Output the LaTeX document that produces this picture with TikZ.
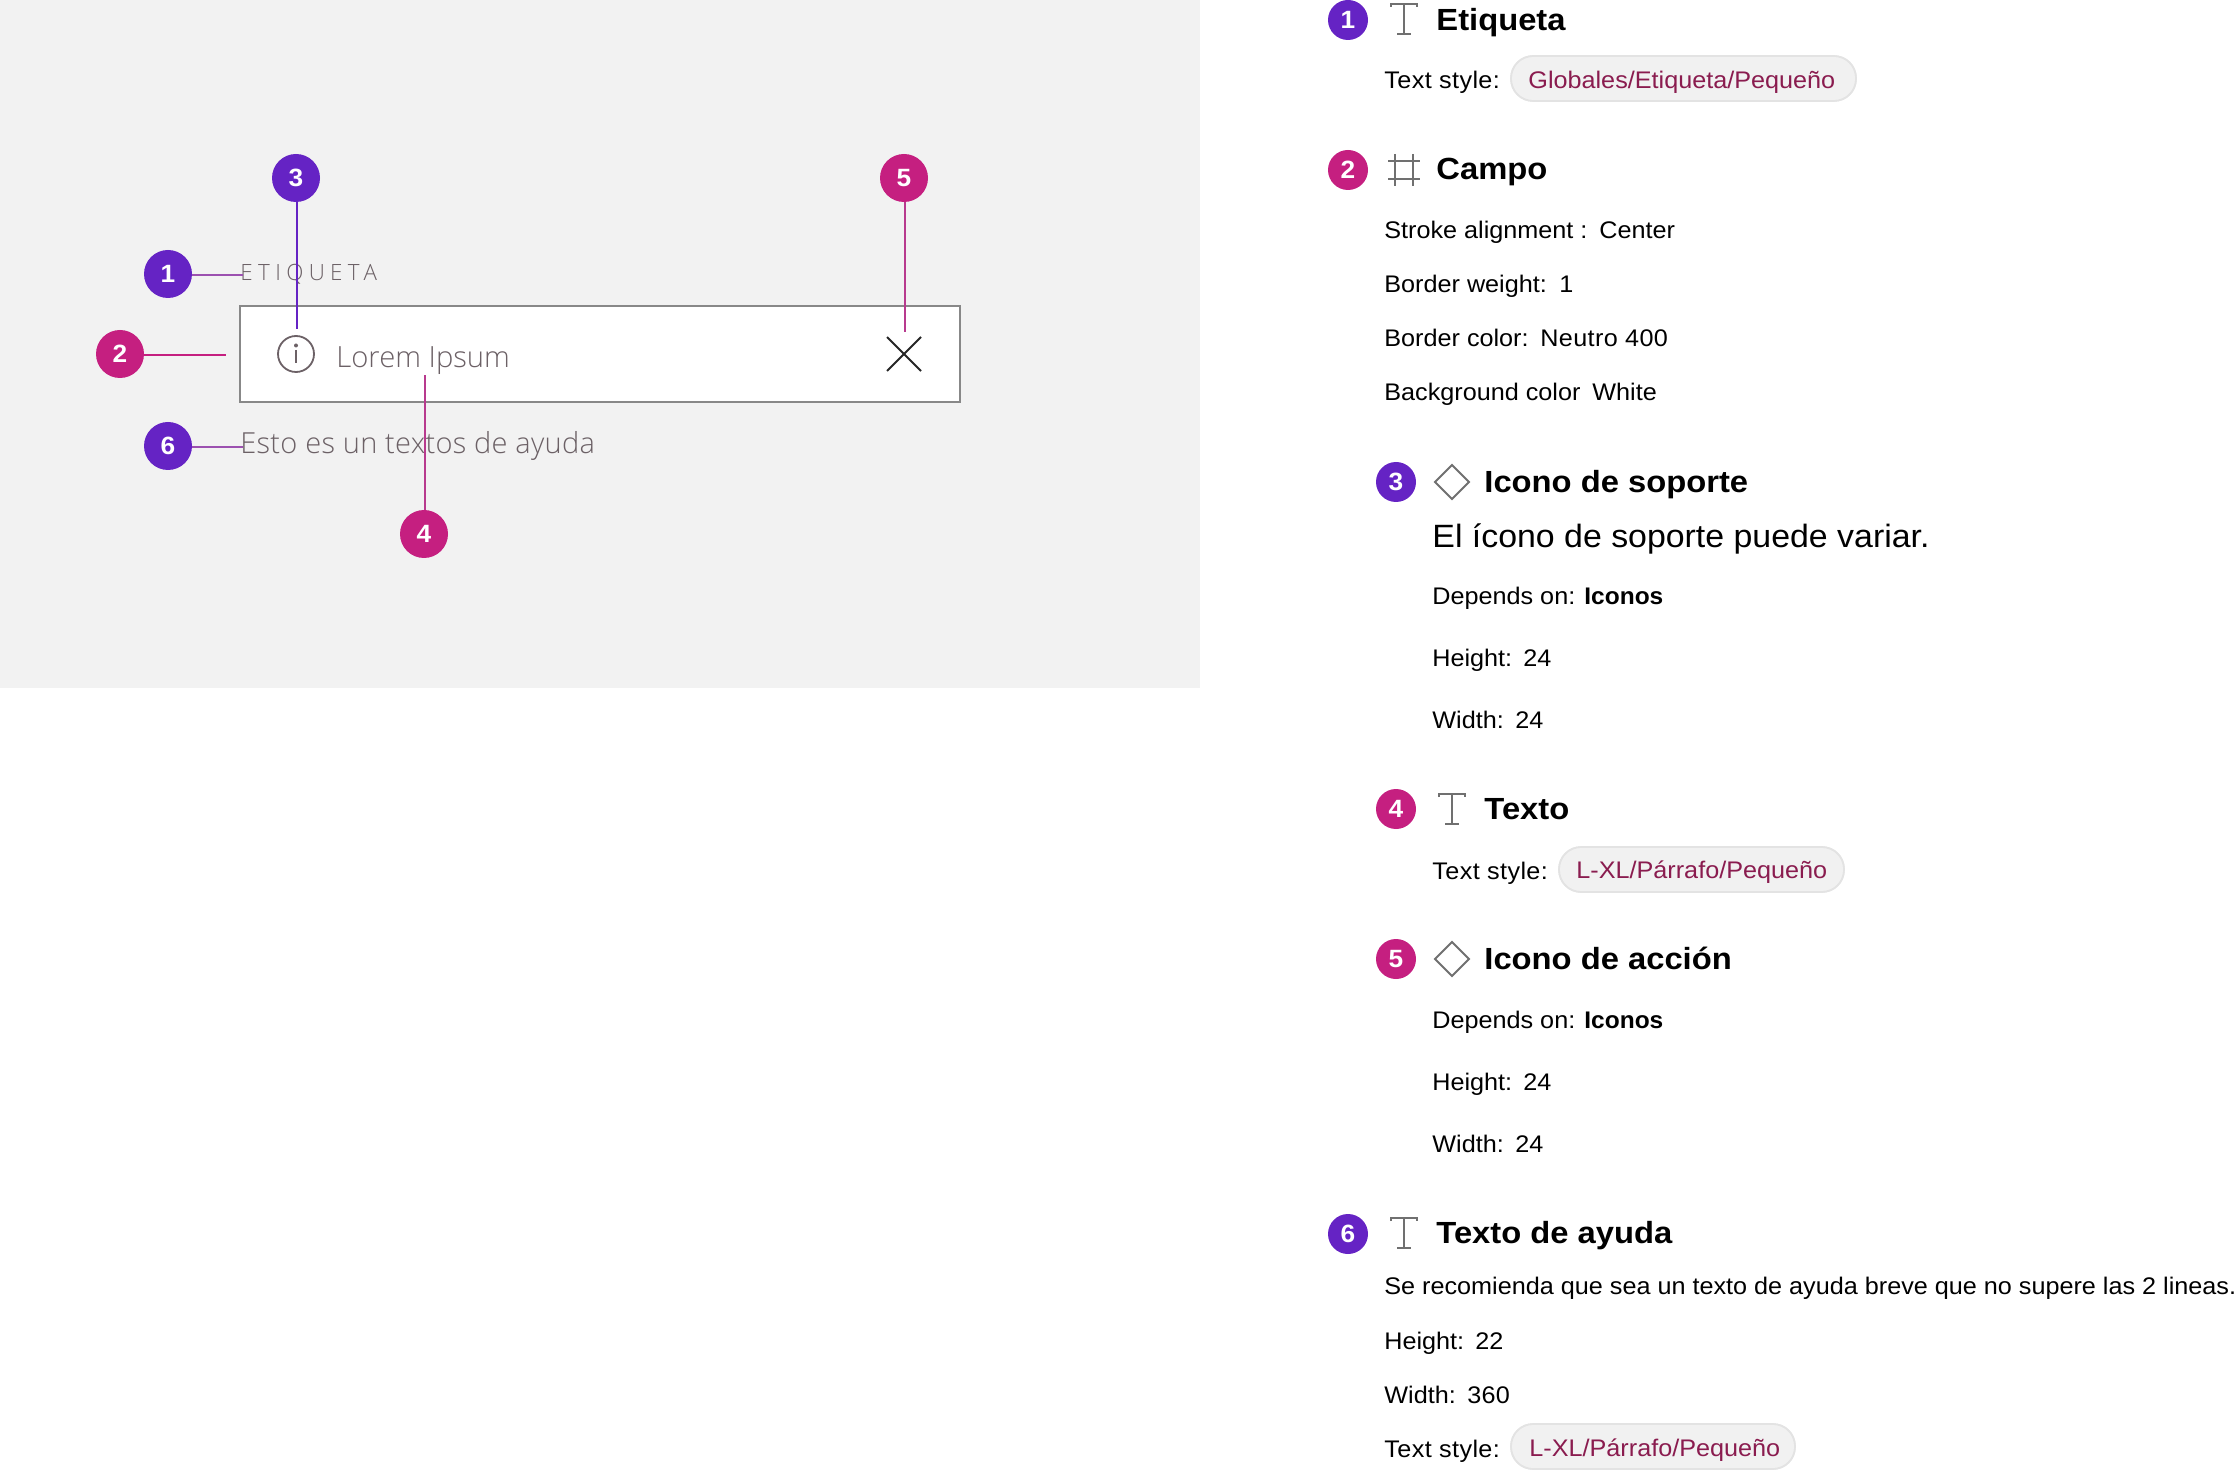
\documentclass[tikz,border=0pt]{standalone}
\usepackage{fontspec}
\setmainfont{Liberation Sans}
\newfontfamily\inter[FakeStretch=1.05]{Liberation Sans}
\newfontfamily\interhead[FakeStretch=1.07]{Liberation Sans}
\newfontfamily\interb[FakeStretch=1.02]{Liberation Sans}
\newfontfamily\segoe{Open Sans Light}
\definecolor{panel}{HTML}{F2F2F2}
\definecolor{purp}{HTML}{6523C4}
\definecolor{magen}{HTML}{C51F80}
\definecolor{linemix}{HTML}{9C51B0}
\definecolor{linemag}{HTML}{B83A8E}
\definecolor{fieldedge}{HTML}{888888}
\definecolor{greytext}{HTML}{6C6166}
\definecolor{icongrey}{HTML}{707070}
\definecolor{pillfill}{HTML}{F1F1F1}
\definecolor{pilledge}{HTML}{E3E3E3}
\definecolor{pilltext}{HTML}{8A1C4F}
\newcommand\stylelabel{\addfontfeature{LetterSpace=1.6}Text style:}
\tikzset{
  x=0.5pt,y=-0.5pt,
  badge/.style={circle,inner sep=0pt,minimum size=24pt,text=white,font=\inter\bfseries\fontsize{12.5}{12.5}\selectfont},
  badgesm/.style={badge,minimum size=20pt},
  purpb/.style={fill=purp},
  magb/.style={fill=magen},
  conn/.style={line width=1pt},
  txt/.style={anchor=base west,inner sep=0pt,text=black,font=\inter\fontsize{12}{14}\selectfont},
  lead/.style={txt,font=\inter\fontsize{16.13}{18}\selectfont},
  head/.style={txt,font=\interhead\bfseries\fontsize{15.3}{18}\selectfont},
  boldtxt/.style={txt,font=\interb\bfseries\fontsize{12}{14}\selectfont},
  pill/.style={anchor=base west,inner sep=0pt,text=pilltext,font=\inter\fontsize{12}{14}\selectfont},
  pillbg/.style={fill=pillfill,draw=pilledge,line width=0.8pt,rounded corners=11pt},
  grey/.style={anchor=base west,inner sep=0pt,text=greytext},
  icon/.style={draw=icongrey,line width=0.9pt},
  tglyph/.pic={
    \draw[icon] (-13,3) -- (-13,0) -- (13,0) -- (13,3);
    \draw[icon] (0,0) -- (0,30);
    \draw[icon] (-7,30) -- (7,30);
  },
  diamondglyph/.pic={
    \draw[icon,line join=miter] (-17,0) -- (0,-17) -- (17,0) -- (0,17) -- cycle;
  }
}
\begin{document}
\begin{tikzpicture}
\useasboundingbox (0,0) rectangle (2238,1470);
% left panel
\fill[panel] (0,0) rectangle (1200,688);
\node[draw=fieldedge,fill=white,line width=1pt,inner sep=0pt,minimum width=360pt,minimum height=48pt,anchor=north west] (field) at (239,305) {};
\node[grey,font=\segoe\fontsize{11.2}{12}\selectfont] (lbl) at (240,281) {\addfontfeature{LetterSpace=24}ETIQUETA};
\node[grey,font=\segoe\fontsize{14.6}{16}\selectfont] (lorem) at (336,368) {Lorem Ipsum};
\node[grey,font=\segoe\fontsize{14.5}{16}\selectfont] (help) at (240,454) {\addfontfeature{LetterSpace=1}Esto es un textos de ayuda};
% info icon
\draw[draw=greytext,line width=0.9pt] (296,354) circle[radius=18];
\fill[greytext] (296,345.5) circle[radius=2];
\draw[draw=greytext,line width=0.9pt] (296,350) -- (296,363);
% close icon
\draw[draw=black!85,line width=1pt] (887,337) -- (921,371) (921,337) -- (887,371);
% badges left
\node[badge,purpb] (b1) at (168,274) {1};
\node[badge,magb] (b2) at (120,354) {2};
\node[badge,purpb] (b3) at (296,178) {3};
\node[badge,magb] (b4) at (424,534) {4};
\node[badge,magb] (b5) at (904,178) {5};
\node[badge,purpb] (b6) at (168,446) {6};
\coordinate (e1) at (242.5,275);
\coordinate (e2) at (226,355);
\coordinate (e3) at (297,329);
\coordinate (e4) at (425,375);
\coordinate (e5) at (905,332);
\coordinate (e6) at (242.5,447);
\draw[conn,linemix] (b1.east |- e1) -- (e1);
\draw[conn,magen] (b2.east |- e2) -- (e2);
\draw[conn,purp] (b3.south -| e3) -- (e3);
\draw[conn,linemag] (b4.north -| e4) -- (e4);
\draw[conn,linemag] (b5.south -| e5) -- (e5);
\draw[conn,linemix] (b6.east |- e6) -- (e6);
% section 1
\node[badgesm,purpb] (r1) at (1348,20) {1};
\pic at (1404,4) {tglyph};
\node[head] (h1) at (1436,31) {Etiqueta};
\node[txt] (t1) at (1384,89) {\stylelabel};
\fill[pillbg] (1511,56) rectangle (1856,101);
\draw[pillbg,fill=none] (1511,56) rectangle (1856,101);
\node[pill] (p1) at (1528,89) {Globales/Etiqueta/Pequeño};
% section 2
\node[badgesm,magb] (r2) at (1348,170) {2};
\draw[icon] (1388,161) -- (1420,161) (1388,179) -- (1420,179) (1395,154) -- (1395,186) (1413,154) -- (1413,186);
\node[head] (h2) at (1436,180) {Campo};
\node[txt] (t2a) at (1384,239) {Stroke alignment :};
\node[txt] (t2a2) at (1599,239) {Center};
\node[txt] (t2b) at (1384,293) {Border weight:};
\node[txt] (t2b2) at (1559,293) {1};
\node[txt] (t2c) at (1384,347) {Border color:};
\node[txt] (t2c2) at (1540,347) {\addfontfeature{LetterSpace=1.5}Neutro 400};
\node[txt] (t2d) at (1384,401) {Background color};
\node[txt] (t2d2) at (1592,401) {White};
% section 3
\node[badgesm,purpb] (r3) at (1396,482) {3};
\pic at (1452,482) {diamondglyph};
\node[head] (h3) at (1484,493) {Icono de soporte};
\node[lead] (t3l) at (1432,548) {El ícono de soporte puede variar.};
\node[txt] (t3a) at (1432,604) {Depends on:};
\node[boldtxt] (t3a2) at (1584,604) {Iconos};
\node[txt] (t3b) at (1432,667) {Height:};
\node[txt] (t3b2) at (1523,667) {24};
\node[txt] (t3c) at (1432,728) {Width:};
\node[txt] (t3c2) at (1515,728) {24};
% section 4
\node[badgesm,magb] (r4) at (1396,809) {4};
\pic at (1452,794) {tglyph};
\node[head] (h4) at (1484,819) {Texto};
\node[txt] (t4) at (1432,879) {\stylelabel};
\fill[pillbg] (1559,847) rectangle (1844,892);
\draw[pillbg,fill=none] (1559,847) rectangle (1844,892);
\node[pill] (p4) at (1576,878) {L-XL/Párrafo/Pequeño};
% section 5
\node[badgesm,magb] (r5) at (1396,959) {5};
\pic at (1452,959) {diamondglyph};
\node[head] (h5) at (1484,969) {Icono de acción};
\node[txt] (t5a) at (1432,1028) {Depends on:};
\node[boldtxt] (t5a2) at (1584,1028) {Iconos};
\node[txt] (t5b) at (1432,1090) {Height:};
\node[txt] (t5b2) at (1523,1090) {24};
\node[txt] (t5c) at (1432,1152) {Width:};
\node[txt] (t5c2) at (1515,1152) {24};
% section 6
\node[badgesm,purpb] (r6) at (1348,1234) {6};
\pic at (1404,1218) {tglyph};
\node[head] (h6) at (1436,1243) {Texto de ayuda};
\node[txt] (t6a) at (1384,1294) {Se recomienda que sea un texto de ayuda breve que no supere las 2 lineas.};
\node[txt] (t6b) at (1384,1349) {Height:};
\node[txt] (t6b2) at (1475,1349) {22};
\node[txt] (t6c) at (1384,1403) {Width:};
\node[txt] (t6c2) at (1467,1403) {\addfontfeature{LetterSpace=1}360};
\node[txt] (t6d) at (1384,1457) {\stylelabel};
\fill[pillbg] (1511,1424) rectangle (1795,1469);
\draw[pillbg,fill=none] (1511,1424) rectangle (1795,1469);
\node[pill] (p6) at (1529,1456) {L-XL/Párrafo/Pequeño};
\end{tikzpicture}
\end{document}
